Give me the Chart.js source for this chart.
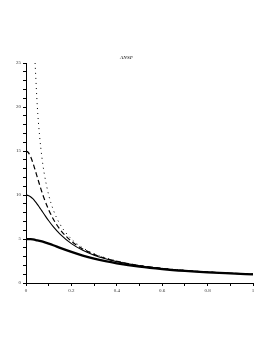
<!DOCTYPE html>
<html>
<head>
<meta charset="utf-8">
<script src="https://cdn.jsdelivr.net/npm/chart.js@4"></script>
<style>
  html, body { margin: 0; padding: 0; background: #fff; }
  #wrap { width: 273px; height: 353px; }
</style>
</head>
<body>
<div id="wrap"><canvas id="plot"></canvas></div>
<script>
/* data */
const xValues = [0, 0.01, 0.02, 0.03, 0.04, 0.05, 0.06, 0.07, 0.08, 0.1, 0.12, 0.15, 0.2, 0.25, 0.3, 0.35, 0.4, 0.5, 0.6, 0.7, 0.8, 0.9, 1];
const curve5  = [5, 4.99, 4.98, 4.95, 4.9, 4.85, 4.79, 4.72, 4.64, 4.47, 4.29, 4.0, 3.54, 3.12, 2.77, 2.48, 2.24, 1.86, 1.58, 1.37, 1.21, 1.09, 0.98];
const curve10 = [10, 9.95, 9.8, 9.58, 9.28, 8.94, 8.57, 8.19, 7.81, 7.07, 6.4, 5.55, 4.47, 3.71, 3.16, 2.75, 2.43, 1.96, 1.64, 1.41, 1.24, 1.1, 0.995];
const curve15 = [15, 14.83, 14.37, 13.68, 12.86, 12.0, 11.15, 10.34, 9.6, 8.32, 7.28, 6.09, 4.74, 3.87, 3.25, 2.81, 2.47, 1.98, 1.66, 1.42, 1.25, 1.11, 1.0];
const curveInf = [null, null, null, null, 25, 20, 16.67, 14.29, 12.5, 10, 8.33, 6.67, 5, 4, 3.33, 2.86, 2.5, 2, 1.67, 1.43, 1.25, 1.11, 1];
const xTickLabels = ["0", "0.2", "0.4", "0.6", "0.8", "1"];
const yTickLabels = ["0", "5", "10", "15", "20", "25"];
const titleText = "ANSF";

function points(ys) {
  return xValues.map((x, i) => ({ x: x, y: ys[i] }));
}

const tickFont = { family: "Liberation Serif", size: 5 };

new Chart(document.getElementById("plot"), {
  type: "line",
  data: {
    datasets: [
      { data: points(curve5), borderColor: "#000", borderWidth: 2.3 },
      { data: points(curve10), borderColor: "#000", borderWidth: 1.1 },
      { data: points(curve15), borderColor: "#000", borderWidth: 1.2, borderDash: [5, 3] },
      { data: points(curveInf), borderColor: "#000", borderWidth: 1, borderDash: [1, 4] }
    ]
  },
  options: {
    responsive: true,
    maintainAspectRatio: false,
    animation: false,
    layout: { padding: { top: 0, right: 20, bottom: 55, left: 0 } },
    elements: {
      point: { radius: 0 },
      line: { tension: 0.4, cubicInterpolationMode: "monotone", fill: false }
    },
    plugins: {
      legend: { display: false },
      tooltip: { enabled: false },
      title: {
        display: true,
        text: titleText,
        color: "#444",
        font: { family: "Liberation Serif", size: 5, style: "italic" },
        padding: { top: 55, bottom: 2 }
      }
    },
    scales: {
      x: {
        type: "linear",
        min: 0,
        max: 1,
        afterFit: s => { s.height = 15; },
        ticks: {
          stepSize: 0.1,
          autoSkip: false,
          maxRotation: 0,
          color: "#333",
          font: tickFont,
          padding: 2,
          callback: (v) => {
            const i = Math.round(v * 10);
            return i % 2 === 0 ? xTickLabels[i / 2] : "";
          }
        },
        grid: { drawOnChartArea: false, drawTicks: true, tickLength: 3, color: "#000" },
        border: { display: true, color: "#000", width: 1 }
      },
      y: {
        type: "linear",
        min: 0,
        max: 25,
        afterFit: s => { s.width = 26; },
        ticks: {
          stepSize: 1,
          autoSkip: false,
          color: "#333",
          font: tickFont,
          padding: 2,
          callback: (v) => (v % 5 === 0 ? yTickLabels[v / 5] : "")
        },
        grid: { drawOnChartArea: false, drawTicks: true, tickLength: 3, color: "#000" },
        border: { display: true, color: "#000", width: 1 }
      }
    }
  }
});
</script>
</body>
</html>
